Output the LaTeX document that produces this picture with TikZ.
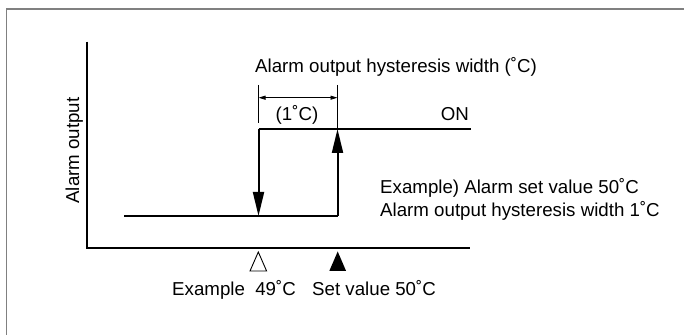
\documentclass[tikz,border=0pt]{standalone}
\usepackage{fontspec}
\setmainfont{Liberation Sans}
\usetikzlibrary{arrows.meta}
\begin{document}
\begin{tikzpicture}[x=1pt,y=1pt,
  txt/.style={inner sep=0pt, font=\fontsize{18.7}{22}\selectfont},
  heavy/.style={line width=2pt, line join=miter},
  dimline/.style={line width=0.9pt},
  bigtip/.style={-{Triangle[length=24pt,width=11pt]}},
  smalltip/.style={{Triangle[length=7pt,width=4pt]}-{Triangle[length=7pt,width=4pt]}},
  frame/.style={draw=black!50, line width=1.4pt}]
\useasboundingbox (0,0) rectangle (684,334);
% outer frame
\coordinate (fb) at (6.7,-3);
\coordinate (ftl) at (6.7,325);
\coordinate (fr) at (690,325);
\draw[frame] (fb) -- (ftl) -- (fr);
% axes
\coordinate (yt) at (87.3,292.3);
\coordinate (o) at (87.3,85.5);
\coordinate (xe) at (470,85.5);
\draw[heavy] (yt) -- (o) -- (xe);
% levels
\coordinate (l0) at (124,118);
\coordinate (l1) at (337.5,118);
\coordinate (d0) at (258.5,118);
\coordinate (u0) at (258.5,205);
\coordinate (uu) at (337.5,205);
\coordinate (u1) at (471,205);
\draw[heavy] (l0) -- (l1);
\draw[heavy] (u0) -- (u1);
\draw[heavy, bigtip] (u0) -- (d0);
\draw[heavy, bigtip] (l1) -- (uu);
% dimension
\coordinate (t1) at (258.5,249);
\coordinate (t1b) at (258.5,211);
\coordinate (t2) at (337.5,249);
\coordinate (dl) at (258.5,236.3);
\coordinate (dr) at (337.5,236.3);
\draw[dimline] (t1) -- (t1b);
\draw[dimline] (t2) -- (uu);
\draw[dimline, smalltip] (dl) -- (dr);
% texts
\node[txt, anchor=base west] (title) at (255,261.3) {Alarm output hysteresis width (˚C)};
\node[txt, anchor=base] (w) at (297,213) {(1˚C)};
\node[txt, anchor=base east] (on) at (469,213) {ON};
\node[txt, anchor=base west] (ex1) at (380,140) {Example) Alarm set value 50˚C};
\node[txt, anchor=base west] (ex2) at (380,117.3) {Alarm output hysteresis width 1˚C};
\node[txt, anchor=base west] (ex49) at (172,38) {Example\ \ 49˚C};
\node[txt, anchor=base west] (set) at (312,38) {Set value 50˚C};
\node[txt, rotate=90, anchor=base] (ylab) at (79,183.5) {Alarm output};
% markers
\coordinate (ta) at (258.3,82);
\coordinate (tb) at (250,63);
\coordinate (tc) at (266.6,63);
\draw[line width=0.9pt, fill=white] (ta) -- (tb) -- (tc) -- cycle;
\coordinate (sa) at (337.7,82.5);
\coordinate (sb) at (329.3,63);
\coordinate (sc) at (346.1,63);
\fill (sa) -- (sb) -- (sc) -- cycle;
\end{tikzpicture}
\end{document}
